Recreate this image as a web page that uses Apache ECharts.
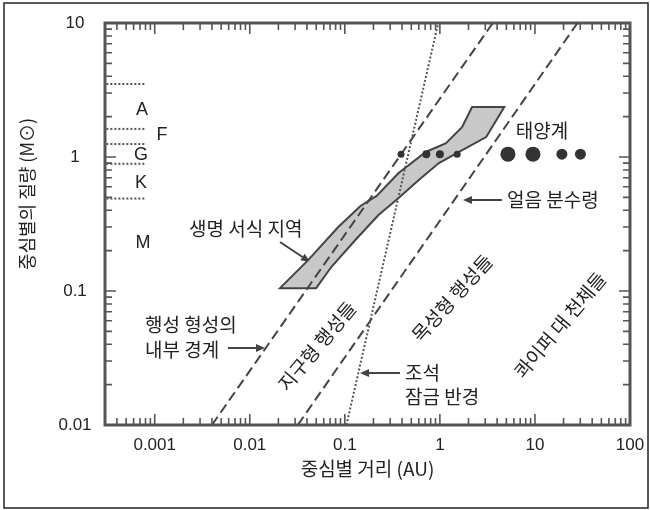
<!DOCTYPE html>
<html>
<head>
<meta charset="utf-8">
<script src="https://cdn.jsdelivr.net/npm/echarts@6/dist/echarts.min.js"></script>
<style>
html, body { margin: 0; padding: 0; background: #fff; }
#chart { width: 650px; height: 510px; }
</style>
</head>
<body>
<div id="chart"></div>
<script>
// 축 범위와 눈금
const xMin = 0.0003, xMax = 100
const yMin = 0.01, yMax = 10
const xTickVals = [0.001, 0.01, 0.1, 1, 10, 100]
const xTickLabels = ['0.001', '0.01', '0.1', '1', '10', '100']
const yTickVals = [0.01, 0.1, 1, 10]
const yTickLabels = ['0.01', '0.1', '1', '10']

// 행성 형성의 내부 경계 (파선)
const innerEdgeX = [0.004, 3.6]
const innerEdgeY = [0.01, 10]
// 얼음 분수령 (파선)
const snowLineX = [0.032, 28]
const snowLineY = [0.01, 10]
// 조석 잠금 반경 (점선)
const tidalX = [0.104, 0.96]
const tidalY = [0.01, 10]

// 생명 서식 지역 윤곽 (위쪽 경계 -> 아래쪽 경계)
const habX = [0.0208, 0.0411, 0.0853, 0.146, 0.216, 0.368, 0.711, 1.16, 1.71, 2.18,
  4.76, 3.07, 1.59, 0.976, 0.600, 0.368, 0.226, 0.129, 0.072, 0.0499]
const habY = [0.105, 0.170, 0.300, 0.431, 0.512, 0.760, 1.09, 1.27, 1.67, 2.36,
  2.36, 1.41, 1.09, 0.902, 0.673, 0.494, 0.369, 0.240, 0.151, 0.105]

// 태양계
const planetNames = ['수성', '금성', '지구', '화성', '목성', '토성', '천왕성', '해왕성']
const planetDist = [0.39, 0.72, 1.0, 1.52, 5.2, 9.54, 19.2, 30.1]
const planetStarMass = [1.05, 1.05, 1.05, 1.05, 1.05, 1.05, 1.05, 1.05]

// 분광형 경계
const starClasses = ['A', 'F', 'G', 'K', 'M']
const starBounds = [3.5, 1.62, 1.25, 0.89, 0.49]
const starBoundX = [0.00031, 0.00078]

const FONT_KR = '"Noto Sans CJK KR", sans-serif'
const FONT_NUM = '"Liberation Sans", Arial, sans-serif'
const INK = '#222'
const LINE = '#444'
const TICK = '#555'

// 로그 눈금 1..9 x 10^e (양 끝 제외)
function logTicks(lo, hi) {
  const out = []
  for (let e = -5; e <= 3; e++) {
    for (let m = 1; m <= 9; m++) {
      const v = m * Math.pow(10, e)
      if (v > lo * 1.0001 && v < hi * 0.9999) out.push({ v: v, major: m === 1 })
    }
  }
  return out
}
const xTicks = logTicks(xMin, xMax)
const yTicks = logTicks(yMin, yMax)

// 눈금 길이 (로그 비율; 약 11px / 7px)
const yLenMajor = Math.pow(10, 11 / 134), yLenMinor = Math.pow(10, 7 / 134)
const xLenMajor = Math.pow(10, 11 / 95), xLenMinor = Math.pow(10, 7 / 95)

function fmt(vals, labels) {
  return function (v) {
    const i = vals.findIndex(t => Math.abs(Math.log10(v) - Math.log10(t)) < 1e-6)
    return i >= 0 ? labels[i] : ''
  }
}

function arrow(x1, y1, x2, y2) {
  const a = Math.atan2(y2 - y1, x2 - x1)
  const L = 9, W = 4
  const bx = x2 - L * Math.cos(a), by = y2 - L * Math.sin(a)
  return {
    type: 'group',
    children: [
      { type: 'line', shape: { x1, y1, x2: bx, y2: by }, style: { stroke: LINE, lineWidth: 2 } },
      {
        type: 'polygon',
        shape: { points: [[x2, y2], [bx - W * Math.sin(a), by + W * Math.cos(a)], [bx + W * Math.sin(a), by - W * Math.cos(a)]] },
        style: { fill: LINE }
      }
    ]
  }
}

function txt(text, x, y, opts) {
  opts = opts || {}
  return {
    type: 'text', x, y, rotation: opts.rot || 0, z: 100,
    style: {
      text, fill: INK, font: (opts.size || 19) + 'px ' + (opts.font || FONT_KR),
      align: opts.align || 'left', verticalAlign: 'middle'
    }
  }
}

const chart = echarts.init(document.getElementById('chart'))

const dashed = { color: LINE, width: 2, type: [10, 5] }
const dotted = { color: '#555', width: 2, type: [2, 2] }
const tickStyle = { color: TICK, width: 1.6, type: 'solid' }

function seg(a, b) {
  return { type: 'line', z: 6, silent: true, symbol: 'none', lineStyle: tickStyle, data: [a, b] }
}

// 네 변 안쪽 눈금 (축 스케일 위의 짧은 선분)
const tickSeries = []
xTicks.forEach(t => {
  const k = t.major ? yLenMajor : yLenMinor
  tickSeries.push(seg([t.v, yMin], [t.v, yMin * k]))
  tickSeries.push(seg([t.v, yMax], [t.v, yMax / k]))
})
yTicks.forEach(t => {
  const k = t.major ? xLenMajor : xLenMinor
  tickSeries.push(seg([xMin, t.v], [xMin * k, t.v]))
  tickSeries.push(seg([xMax, t.v], [xMax / k, t.v]))
})

const series = [
  {
    type: 'custom',
    z: 1,
    silent: true,
    data: [[habX[0], habY[0]]],
    renderItem(params, api) {
      const points = habX.map((x, i) => api.coord([x, habY[i]]))
      return { type: 'polygon', shape: { points }, style: { fill: '#c8c8c8', stroke: LINE, lineWidth: 2 } }
    }
  },
  { type: 'line', z: 3, symbol: 'none', lineStyle: dashed, data: innerEdgeX.map((x, i) => [x, innerEdgeY[i]]) },
  { type: 'line', z: 3, symbol: 'none', lineStyle: dashed, data: snowLineX.map((x, i) => [x, snowLineY[i]]) },
  { type: 'line', z: 3, symbol: 'none', lineStyle: dotted, data: tidalX.map((x, i) => [x, tidalY[i]]) },
  ...starBounds.map(b => ({
    type: 'line', z: 3, symbol: 'none', lineStyle: dotted,
    data: [[starBoundX[0], b], [starBoundX[1], b]]
  })),
  {
    type: 'scatter',
    z: 4,
    name: '태양계',
    symbolSize: (v, p) => [7, 8, 8, 7, 15, 15, 11, 11][p.dataIndex],
    itemStyle: { color: '#333', opacity: 1 },
    data: planetDist.map((d, i) => ({ name: planetNames[i], value: [d, planetStarMass[i]] }))
  },
  ...tickSeries
]

const option = {
  backgroundColor: '#fff',
  animation: false,
  grid: { left: 105, right: 20, top: 23, bottom: 85, show: true, borderColor: '#555', borderWidth: 3 },
  xAxis: {
    type: 'log',
    min: xMin,
    max: xMax,
    name: '중심별 거리 (AU)',
    nameLocation: 'middle',
    nameGap: 33,
    nameTextStyle: { color: INK, fontSize: 19, fontFamily: FONT_KR },
    axisLine: { show: false },
    axisTick: { show: false },
    splitLine: { show: false },
    axisLabel: { color: INK, fontSize: 17, fontFamily: FONT_NUM, margin: 12, formatter: fmt(xTickVals, xTickLabels) }
  },
  yAxis: {
    type: 'log',
    min: yMin,
    max: yMax,
    axisLine: { show: false },
    axisTick: { show: false },
    splitLine: { show: false },
    axisLabel: { color: INK, fontSize: 17, fontFamily: FONT_NUM, align: 'center', margin: 30, formatter: fmt(yTickVals, yTickLabels) }
  },
  series,
  graphic: [
    { type: 'rect', z: -10, shape: { x: 4, y: 3, width: 644, height: 505 }, style: { fill: 'transparent', stroke: '#222', lineWidth: 1.5 } },
    txt('중심별의 질량 (M⊙)', 27, 194, { rot: Math.PI / 2, align: 'center', size: 18 }),
    txt(starClasses[0], 142, 110, { font: FONT_NUM, align: 'center', size: 18 }),
    txt(starClasses[1], 162, 135, { font: FONT_NUM, align: 'center', size: 18 }),
    txt(starClasses[2], 141, 155, { font: FONT_NUM, align: 'center', size: 18 }),
    txt(starClasses[3], 141, 183, { font: FONT_NUM, align: 'center', size: 18 }),
    txt(starClasses[4], 143, 243, { font: FONT_NUM, align: 'center', size: 18 }),
    txt('태양계', 542, 131, { align: 'center' }),
    txt('얼음 분수령', 507, 200),
    arrow(502, 200, 463, 200),
    txt('생명 서식 지역', 189, 229),
    arrow(280, 242, 310, 262),
    txt('행성 형성의', 145, 325),
    txt('내부 경계', 145, 350),
    arrow(228, 348, 265, 348),
    txt('조석', 405, 373),
    txt('잠금 반경', 405, 397),
    arrow(400, 373, 360, 373),
    txt('지구형 행성들', 317, 346, { rot: 50 * Math.PI / 180, align: 'center' }),
    txt('목성형 행성들', 452, 298, { rot: 48 * Math.PI / 180, align: 'center' }),
    txt('콰이퍼 대 천체들', 560, 325, { rot: 50 * Math.PI / 180, align: 'center' })
  ]
}

chart.setOption(option)
</script>
</body>
</html>
